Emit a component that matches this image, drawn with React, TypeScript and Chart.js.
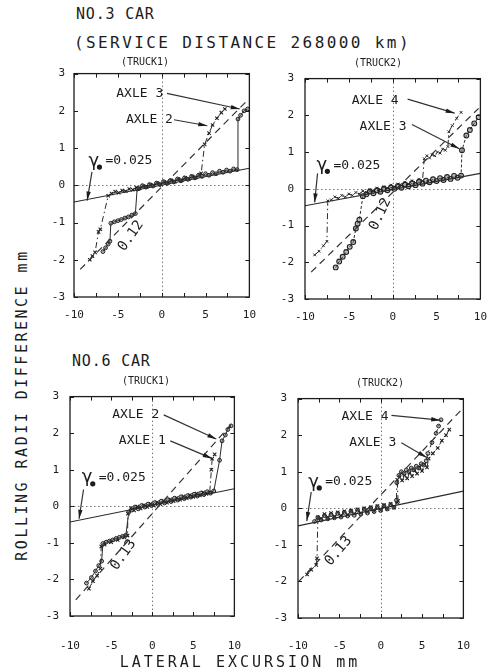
import React, { useEffect, useRef } from 'react';
import { Chart, registerables } from 'chart.js';
Chart.register(...registerables);

// ---------- DATA ----------
const X_TICKS_MIN = -10;
const X_TICKS_MAX = 10;
const Y_TICKS_MIN = -3;
const Y_TICKS_MAX = 3;

// NO.3 CAR, TRUCK1
const tl_gammaX = [-10, 10];
const tl_gammaY = [-0.45, 0.46];
const tl_coneX = [-9.3, 9.6];
const tl_coneY = [-2.26, 2.24];
const tl_axle3X = [-6.7, -6.4, -6.1, -5.9, -5.8, -5.4, -5.0, -4.6, -4.2, -3.8, -3.4, -3.0, -2.8,
  -2.6, -2.2, -1.8, -1.4, -1.0, -0.6, -0.2, 0.2, 0.6, 1.0, 1.4, 1.8, 2.2, 2.6, 3.0, 3.4, 3.8, 4.2, 4.6, 5.0, 5.4, 5.8, 6.2, 6.6, 7.0, 7.4, 7.8, 8.2, 8.6,
  8.7, 9.0, 9.4, 9.8];
const tl_axle3Y = [-1.78, -1.68, -1.58, -1.5, -1.02, -0.98, -0.95, -0.92, -0.88, -0.85, -0.8, -0.76, -0.1,
  -0.09, -0.01, -0.05, 0.02, -0.02, 0.06, 0.02, 0.1, 0.05, 0.13, 0.09, 0.17, 0.12, 0.2, 0.16, 0.24, 0.2, 0.27, 0.24, 0.31, 0.27, 0.34, 0.31, 0.38, 0.35, 0.41, 0.38, 0.44, 0.42,
  1.78, 1.88, 2.0, 2.05];
const tl_axle2X = [-8.2, -7.9, -7.6, -7.2, -7.0, -6.1,
  -5.7, -5.3, -4.9, -4.5, -4.1, -3.7, -3.3, -2.9, -2.5, -2.1, -1.7, -1.3, -0.9, -0.5, -0.1, 0.3, 0.7, 1.1, 1.5, 1.9, 2.3, 2.7, 3.1, 3.5, 3.9, 4.3,
  4.5, 4.9, 5.4, 5.8, 6.3, 6.8, 7.2];
const tl_axle2Y = [-2.0, -1.9, -1.8, -1.25, -1.18, -0.28,
  -0.22, -0.17, -0.2, -0.14, -0.16, -0.1, -0.12, -0.06, -0.08, -0.02, -0.04, 0.02, 0.0, 0.06, 0.03, 0.09, 0.06, 0.13, 0.1, 0.17, 0.14, 0.2, 0.17, 0.24, 0.21, 0.28,
  0.32, 1.1, 1.4, 1.62, 1.8, 1.95, 2.05];

// NO.3 CAR, TRUCK2
const tr_gammaX = [-10, 10];
const tr_gammaY = [-0.46, 0.42];
const tr_coneX = [-9.3, 9.8];
const tr_coneY = [-2.27, 2.19];
const tr_axle4X = [-8.9, -8.4, -7.9, -7.5, -7.4,
  -7.0, -6.6, -6.2, -5.8, -5.4, -5.0, -4.6, -4.2, -3.8, -3.4, -3.0, -2.6, -2.2, -1.8, -1.4, -1.0, -0.6, -0.2, 0.2, 0.6, 1.0, 1.4, 1.8, 2.2, 2.6, 3.0, 3.4,
  3.6, 3.9, 4.2, 4.5, 4.8, 5.1, 5.4, 5.7, 6.0, 6.3,
  6.4, 6.8, 7.3, 7.8];
const tr_axle4Y = [-1.8, -1.7, -1.55, -1.43, -0.33,
  -0.3, -0.22, -0.26, -0.18, -0.22, -0.14, -0.18, -0.1, -0.14, -0.06, -0.1, -0.02, -0.06, 0.02, -0.02, 0.06, 0.02, 0.1, 0.05, 0.13, 0.09, 0.18, 0.13, 0.22, 0.17, 0.26, 0.22,
  0.82, 0.9, 0.84, 0.93, 0.9, 1.0, 0.97, 1.08, 1.05, 1.15,
  1.55, 1.72, 1.92, 2.08];
const tr_axle3X = [-6.5, -6.1, -5.7, -5.3, -4.9, -4.5, -4.2, -4.0, -3.8, -3.4,
  -3.0, -2.6, -2.2, -1.8, -1.4, -1.0, -0.6, -0.2, 0.2, 0.6, 1.0, 1.4, 1.8, 2.2, 2.6, 3.0, 3.4, 3.8, 4.2, 4.6, 5.0, 5.4, 5.8, 6.2, 6.6, 7.0, 7.4, 7.8,
  7.9, 8.4, 8.8, 9.3, 9.8];
const tr_axle3Y = [-2.14, -1.98, -1.85, -1.72, -1.58, -1.45, -1.08, -0.95, -0.84, -0.2,
  -0.15, -0.07, -0.12, -0.04, -0.08, 0.0, -0.04, 0.04, 0.0, 0.08, 0.03, 0.12, 0.07, 0.15, 0.1, 0.19, 0.14, 0.22, 0.18, 0.26, 0.21, 0.29, 0.24, 0.32, 0.27, 0.35, 0.3, 0.36,
  1.05, 1.45, 1.6, 1.78, 1.95];

// NO.6 CAR, TRUCK1
const bl_gammaX = [-10, 10];
const bl_gammaY = [-0.43, 0.48];
const bl_coneX = [-9.3, 9.6];
const bl_coneY = [-2.56, 2.24];
const bl_axle2X = [-8.0, -7.4, -6.9, -6.5, -6.15, -6.0, -5.6, -5.2, -4.8, -4.4, -4.0, -3.6, -3.2, -2.85,
  -2.5, -2.1, -1.7, -1.3, -0.9, -0.5, -0.1, 0.3, 0.7, 1.1, 1.5, 1.9, 2.3, 2.7, 3.1, 3.5, 3.9, 4.3, 4.7, 5.1, 5.5, 5.9, 6.3, 6.7, 7.1, 7.5,
  8.2, 8.5, 8.9, 9.2, 9.6];
const bl_axle2Y = [-2.1, -1.95, -1.77, -1.62, -1.5, -1.02, -0.98, -0.95, -0.92, -0.88, -0.85, -0.82, -0.79, -0.16,
  -0.1, -0.02, -0.07, 0.02, -0.02, 0.06, 0.02, 0.1, 0.05, 0.14, 0.09, 0.18, 0.13, 0.22, 0.17, 0.26, 0.21, 0.29, 0.25, 0.33, 0.28, 0.36, 0.32, 0.4, 0.36, 0.42,
  1.26, 1.79, 1.95, 2.1, 2.2];
const bl_axle1X = [-7.7, -7.2, -6.7, -6.3, -6.2, -5.8, -5.0, -4.2, -3.4, -3.0, -2.95,
  -2.6, -2.2, -1.8, -1.4, -1.0, -0.6, -0.2, 0.2, 0.6, 1.0, 1.4, 1.8, 2.2, 2.6, 3.0, 3.4, 3.8, 4.2, 4.6, 5.0, 5.4, 5.8, 6.2, 6.6, 7.0,
  7.2, 7.3, 7.6];
const bl_axle1Y = [-2.25, -2.05, -1.9, -1.7, -1.1, -1.05, -0.98, -0.92, -0.85, -0.8, -0.2,
  -0.05, -0.11, -0.01, -0.06, 0.03, -0.02, 0.07, 0.02, 0.11, 0.06, 0.15, 0.1, 0.19, 0.14, 0.23, 0.18, 0.27, 0.22, 0.31, 0.26, 0.35, 0.3, 0.38, 0.34, 0.38,
  1.0, 1.3, 1.42];

// NO.6 CAR, TRUCK2
const br_gammaX = [-10, 10];
const br_gammaY = [-0.48, 0.47];
const br_coneX = [-9.9, 9.7];
const br_coneY = [-2.0, 2.68];
const br_axle3X = [-8.9, -8.4, -7.8, -7.7, -7.6,
  -7.2, -6.8, -6.4, -6.0, -5.6, -5.2, -4.8, -4.4, -4.0, -3.6, -3.2, -2.8, -2.4, -2.0, -1.6, -1.2, -0.8, -0.4, 0.0, 0.4, 0.8, 1.2, 1.6, 2.0,
  2.1, 2.0,
  2.3, 2.6, 2.9, 3.2, 3.5, 3.8, 4.1, 4.4, 4.7, 5.0, 5.3, 5.6, 5.8,
  6.3, 6.9, 7.4, 7.9, 8.3];
const br_axle3Y = [-1.81, -1.68, -1.55, -1.37, -0.25,
  -0.28, -0.16, -0.25, -0.13, -0.23, -0.11, -0.2, -0.08, -0.18, -0.06, -0.15, -0.03, -0.13, 0.0, -0.1, 0.03, -0.08, 0.06, -0.05, 0.09, -0.02, 0.12, 0.02, 0.16,
  0.2, 0.78,
  0.85, 0.76, 0.9, 0.82, 0.97, 0.88, 1.04, 0.95, 1.12, 1.02, 1.2, 1.12, 1.36,
  1.5, 1.65, 1.85, 2.0, 2.15];
const br_axle4X = [-8.0, -7.6, -7.2, -6.8, -6.4, -6.0, -5.6, -5.2, -4.8, -4.4, -4.0, -3.6, -3.2, -2.8, -2.4, -2.0, -1.6, -1.2, -0.8, -0.4, 0.0, 0.4, 0.8, 1.2, 1.6, 1.9,
  1.95,
  2.2, 2.5, 2.8, 3.1, 3.4, 3.7, 4.0, 4.3, 4.6, 4.9, 5.2, 5.5,
  5.7, 6.2, 6.7, 7.0, 7.3];
const br_axle4Y = [-0.36, -0.25, -0.32, -0.2, -0.29, -0.17, -0.26, -0.14, -0.24, -0.11, -0.21, -0.08, -0.19, -0.05, -0.16, -0.02, -0.13, 0.01, -0.09, 0.04, -0.06, 0.07, -0.02, 0.1, 0.03, 0.22,
  0.7,
  0.9, 1.0, 0.95, 1.05, 1.0, 1.1, 1.05, 1.15, 1.1, 1.22, 1.18, 1.3,
  1.5, 1.8, 2.05, 2.25, 2.42];

// ---------- LAYOUT / STYLE ----------
const MONO = '"DejaVu Sans Mono", "Liberation Mono", monospace';
const INK = '#1c1c1c';
const DASH_DOT = [6, 3, 1.5, 3];

type Panel = {
  key: string;
  box: { l: number; t: number; r: number; b: number };
  xPad: number;
  yPad: number;
  A: { xs: number[]; ys: number[]; dash: number[]; style: string };
  B: { xs: number[]; ys: number[]; dash: number[]; style: string };
  gamma: { xs: number[]; ys: number[] };
  cone: { xs: number[]; ys: number[] };
  labels: { t: string; x: number; y: number }[];
  arrows: number[][];
  gLabel: { x: number; y: number };
  cLabel: { t: string; x: number; y: number; rot: number };
};

const panels: Panel[] = [
  {
    key: 'tl',
    box: { l: 74, t: 70, r: 256, b: 297 },
    xPad: 12, yPad: 9,
    A: { xs: tl_axle3X, ys: tl_axle3Y, dash: [], style: 'circle' },
    B: { xs: tl_axle2X, ys: tl_axle2Y, dash: DASH_DOT, style: 'crossRot' },
    gamma: { xs: tl_gammaX, ys: tl_gammaY },
    cone: { xs: tl_coneX, ys: tl_coneY },
    labels: [{ t: 'AXLE 3', x: -2.5, y: 2.47 }, { t: 'AXLE 2', x: -1.4, y: 1.76 }],
    arrows: [[0.6, 2.47, 8.9, 2.05], [1.4, 1.76, 5.2, 1.6], [-7.95, 0.36, -8.5, -0.41]],
    gLabel: { x: -8.35, y: 0.65 },
    cLabel: { t: '0.12', x: -3.5, y: -1.36, rot: -55 },
  },
  {
    key: 'tr',
    box: { l: 305, t: 73, r: 487, b: 299 },
    xPad: 12, yPad: 11,
    A: { xs: tr_axle4X, ys: tr_axle4Y, dash: DASH_DOT, style: 'crossRot' },
    B: { xs: tr_axle3X, ys: tr_axle3Y, dash: [3, 2], style: 'circle' },
    gamma: { xs: tr_gammaX, ys: tr_gammaY },
    cone: { xs: tr_coneX, ys: tr_coneY },
    labels: [{ t: 'AXLE 4', x: -2.0, y: 2.41 }, { t: 'AXLE 3', x: -1.1, y: 1.7 }],
    arrows: [[1.7, 2.44, 7.07, 2.06], [2.2, 1.75, 7.6, 1.09], [-8.57, 0.42, -8.9, -0.37]],
    gLabel: { x: -8.7, y: 0.64 },
    cLabel: { t: '0.12', x: -1.4, y: -0.69, rot: -65 },
  },
  {
    key: 'bl',
    box: { l: 70, t: 391, r: 253, b: 616 },
    xPad: 24, yPad: 11,
    A: { xs: bl_axle2X, ys: bl_axle2Y, dash: [], style: 'circle' },
    B: { xs: bl_axle1X, ys: bl_axle1Y, dash: DASH_DOT, style: 'crossRot' },
    gamma: { xs: bl_gammaX, ys: bl_gammaY },
    cone: { xs: bl_coneX, ys: bl_coneY },
    labels: [{ t: 'AXLE 2', x: -2.0, y: 2.51 }, { t: 'AXLE 1', x: -1.2, y: 1.79 }],
    arrows: [[1.4, 2.5, 7.8, 1.84], [2.2, 1.79, 7.26, 1.31], [-8.35, 0.46, -8.9, -0.34]],
    gLabel: { x: -8.57, y: 0.78 },
    cLabel: { t: '0.13', x: -3.5, y: -1.33, rot: -55 },
  },
  {
    key: 'br',
    box: { l: 298, t: 393, r: 480, b: 618 },
    xPad: 22, yPad: 11,
    A: { xs: br_axle4X, ys: br_axle4Y, dash: DASH_DOT, style: 'circle' },
    B: { xs: br_axle3X, ys: br_axle3Y, dash: DASH_DOT, style: 'crossRot' },
    gamma: { xs: br_gammaX, ys: br_gammaY },
    cone: { xs: br_coneX, ys: br_coneY },
    labels: [{ t: 'AXLE 4', x: -1.9, y: 2.52 }, { t: 'AXLE 3', x: -0.95, y: 1.79 }],
    arrows: [[1.3, 2.54, 7.2, 2.41], [2.5, 1.79, 5.56, 1.39], [-8.4, 0.45, -8.94, -0.35]],
    gLabel: { x: -8.76, y: 0.72 },
    cLabel: { t: '0.13', x: -5.1, y: -1.17, rot: -50 },
  },
];

const Y_AXIS_W = 36;
const X_AXIS_H = 36;
const PAD_T = 12;
const PAD_R = 12;

const pts = (xs: number[], ys: number[]) => xs.map((x, i) => ({ x, y: ys[i] }));

function PanelChart({ p }: { p: Panel }) {
  const ref = useRef<HTMLCanvasElement | null>(null);
  const W = p.box.r - p.box.l + Y_AXIS_W + PAD_R;
  const H = p.box.b - p.box.t + PAD_T + X_AXIS_H;
  useEffect(() => {
    if (!ref.current) return;
    const plugin = {
      id: 'frameAnn_' + p.key,
      beforeDatasetsDraw(chart: any) {
        const { ctx, chartArea: a, scales } = chart;
        const sx = scales.x, sy = scales.y;
        ctx.save();
        ctx.strokeStyle = '#777';
        ctx.lineWidth = 1;
        ctx.setLineDash([1.5, 2.5]);
        const x0 = Math.round(sx.getPixelForValue(0)) + 0.5;
        const y0 = Math.round(sy.getPixelForValue(0)) + 0.5;
        ctx.beginPath();
        ctx.moveTo(x0, a.top); ctx.lineTo(x0, a.bottom);
        ctx.moveTo(a.left, y0); ctx.lineTo(a.right, y0);
        ctx.stroke();
        ctx.restore();
      },
      afterDatasetsDraw(chart: any) {
        const { ctx, chartArea: a, scales } = chart;
        const sx = scales.x, sy = scales.y;
        const px = (v: number) => sx.getPixelForValue(v);
        const py = (v: number) => sy.getPixelForValue(v);
        ctx.save();
        ctx.setLineDash([]);
        ctx.strokeStyle = INK;
        ctx.lineWidth = 1.3;
        ctx.strokeRect(a.left, a.top, a.right - a.left, a.bottom - a.top);
        ctx.lineWidth = 1;
        ctx.beginPath();
        sx.ticks.forEach((t: any) => {
          const x = Math.round(px(t.value)) + 0.5;
          ctx.moveTo(x, a.bottom); ctx.lineTo(x, a.bottom - 4);
          ctx.moveTo(x, a.top); ctx.lineTo(x, a.top + 4);
        });
        sy.ticks.forEach((t: any) => {
          const y = Math.round(py(t.value)) + 0.5;
          ctx.moveTo(a.left, y); ctx.lineTo(a.left + 4, y);
          ctx.moveTo(a.right, y); ctx.lineTo(a.right - 4, y);
        });
        ctx.stroke();

        ctx.fillStyle = INK;
        ctx.font = `13px ${MONO}`;
        ctx.textAlign = 'center';
        ctx.textBaseline = 'middle';
        p.labels.forEach((l) => ctx.fillText(l.t, px(l.x), py(l.y)));

        ctx.strokeStyle = '#333';
        ctx.lineWidth = 1.2;
        p.arrows.forEach(([x1, y1, x2, y2]) => {
          const X1 = px(x1), Y1 = py(y1), X2 = px(x2), Y2 = py(y2);
          const ang = Math.atan2(Y2 - Y1, X2 - X1);
          ctx.beginPath();
          ctx.moveTo(X1, Y1); ctx.lineTo(X2, Y2); ctx.stroke();
          ctx.beginPath();
          ctx.moveTo(X2, Y2);
          ctx.lineTo(X2 - 9 * Math.cos(ang) + 2.2 * Math.sin(ang), Y2 - 9 * Math.sin(ang) - 2.2 * Math.cos(ang));
          ctx.lineTo(X2 - 9 * Math.cos(ang) - 2.2 * Math.sin(ang), Y2 - 9 * Math.sin(ang) + 2.2 * Math.cos(ang));
          ctx.closePath();
          ctx.fill();
        });

        const gx = px(p.gLabel.x), gy = py(p.gLabel.y);
        ctx.textAlign = 'left';
        ctx.font = `18px "DejaVu Sans", sans-serif`;
        ctx.fillText('γ', gx, gy);
        ctx.beginPath();
        ctx.arc(gx + 11, gy + 6, 2.6, 0, Math.PI * 2);
        ctx.fill();
        ctx.font = `13px ${MONO}`;
        ctx.fillText('=0.025', gx + 17, gy);

        ctx.save();
        ctx.translate(px(p.cLabel.x), py(p.cLabel.y));
        ctx.rotate((p.cLabel.rot * Math.PI) / 180);
        ctx.textAlign = 'center';
        ctx.font = `14px ${MONO}`;
        ctx.fillText(p.cLabel.t, 0, 0);
        ctx.restore();
        ctx.restore();
      },
    };

    const chart = new Chart(ref.current, {
      type: 'scatter',
      data: {
        datasets: [
          { data: pts(p.gamma.xs, p.gamma.ys), showLine: true, borderColor: '#2a2a2a', borderWidth: 1.1, pointRadius: 0 },
          { data: pts(p.cone.xs, p.cone.ys), showLine: true, borderColor: '#333', borderWidth: 1.2, borderDash: [7, 5], pointRadius: 0 },
          {
            data: pts(p.A.xs, p.A.ys), showLine: true, borderColor: '#2a2a2a', borderWidth: 1, borderDash: p.A.dash,
            pointStyle: p.A.style as any, pointRadius: 1.9, pointBorderWidth: 1, pointBorderColor: '#222', pointBackgroundColor: 'rgba(90,90,90,0.4)',
          },
          {
            data: pts(p.B.xs, p.B.ys), showLine: true, borderColor: '#2a2a2a', borderWidth: 1, borderDash: p.B.dash,
            pointStyle: p.B.style as any, pointRadius: 2.4, pointBorderWidth: 1.1, pointBorderColor: '#222', pointBackgroundColor: 'rgba(90,90,90,0.4)',
          },
        ],
      },
      options: {
        animation: false,
        responsive: false,
        maintainAspectRatio: false,
        devicePixelRatio: 1,
        layout: { padding: { top: PAD_T, right: PAD_R, left: 0, bottom: 0 } },
        plugins: { legend: { display: false }, tooltip: { enabled: false } },
        scales: {
          x: {
            type: 'linear', min: X_TICKS_MIN, max: X_TICKS_MAX,
            grid: { display: false, drawTicks: false },
            border: { display: false },
            ticks: {
              stepSize: 2.5, autoSkip: false, maxRotation: 0, padding: p.xPad, color: INK,
              font: { family: MONO, size: 11 },
              callback: (v: any) => (Number(v) % 5 === 0 ? String(v) : ''),
            },
            afterFit: (s: any) => { s.height = X_AXIS_H; },
          },
          y: {
            type: 'linear', min: Y_TICKS_MIN, max: Y_TICKS_MAX,
            grid: { display: false, drawTicks: false },
            border: { display: false },
            ticks: { stepSize: 1, padding: p.yPad, color: INK, font: { family: MONO, size: 11 } },
            afterFit: (s: any) => { s.width = Y_AXIS_W; },
          },
        },
      },
      plugins: [plugin],
    } as any);
    return () => chart.destroy();
  }, [p]);
  return (
    <canvas
      ref={ref}
      width={W}
      height={H}
      style={{ position: 'absolute', left: p.box.l - Y_AXIS_W, top: p.box.t - PAD_T, width: W, height: H }}
    />
  );
}

const txt = (extra: React.CSSProperties): React.CSSProperties => ({
  position: 'absolute', fontFamily: MONO, color: INK, whiteSpace: 'nowrap', lineHeight: 1, ...extra,
});

export default function App() {
  return (
    <div style={{ position: 'fixed', left: 0, top: 0, width: 489, height: 672, background: '#fff', overflow: 'hidden' }}>
      {panels.map((p) => <PanelChart key={p.key} p={p} />)}
      <div style={txt({ left: 76, top: 7, fontSize: 15, letterSpacing: 0.8 })}>NO.3 CAR</div>
      <div style={txt({ left: 74, top: 35, fontSize: 16, letterSpacing: 2.4 })}>(SERVICE DISTANCE 268000 km)</div>
      <div style={txt({ left: 72, top: 354, fontSize: 15, letterSpacing: 0.8 })}>NO.6 CAR</div>
      <div style={txt({ left: 145, top: 62, fontSize: 10, transform: 'translate(-50%,-50%)' })}>(TRUCK1)</div>
      <div style={txt({ left: 378, top: 63, fontSize: 10, transform: 'translate(-50%,-50%)' })}>(TRUCK2)</div>
      <div style={txt({ left: 146, top: 381, fontSize: 10, transform: 'translate(-50%,-50%)' })}>(TRUCK1)</div>
      <div style={txt({ left: 380, top: 383, fontSize: 10, transform: 'translate(-50%,-50%)' })}>(TRUCK2)</div>
      <div style={txt({ left: 22, top: 405, fontSize: 15, letterSpacing: 2.5, transform: 'translate(-50%,-50%) rotate(-90deg)' })}>
        ROLLING RADII DIFFERENCE  mm
      </div>
      <div style={txt({ left: 240, top: 662, fontSize: 15, letterSpacing: 3, transform: 'translate(-50%,-50%)' })}>
        LATERAL EXCURSION  mm
      </div>
    </div>
  );
}
